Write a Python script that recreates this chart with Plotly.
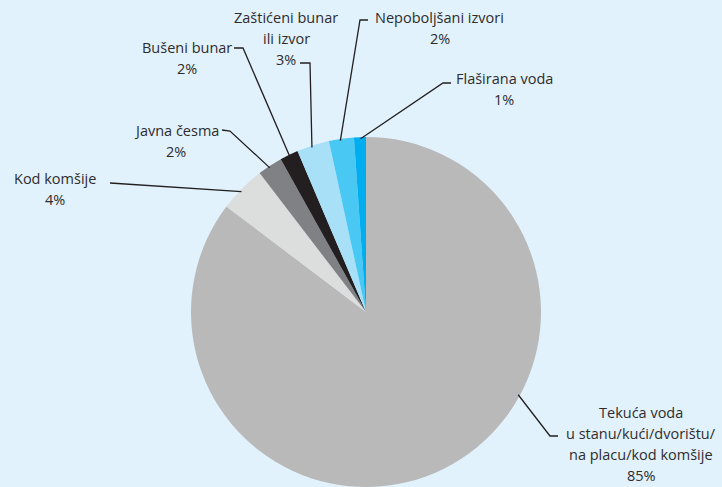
import math
import plotly.graph_objects as go

# ---- data ----
labels = [
    "Tekuća voda\nu stanu/kući/dvorištu/\nna placu/kod komšije",
    "Kod komšije",
    "Javna česma",
    "Bušeni bunar",
    "Zaštićeni bunar\nili izvor",
    "Nepoboljšani izvori",
    "Flaširana voda",
]
values = [85.3, 4.3, 2.3, 1.7, 3.0, 2.3, 1.1]
pct_text = ["85%", "4%", "2%", "2%", "3%", "2%", "1%"]

# ---- style ----
colors = ["#b9b9ba", "#dcdddd", "#808184", "#231f20", "#a8e0f8", "#48c8f3", "#00aeef"]
BG = "#e1f2fc"
TXT = "#2f2c2d"
LINE = "#231f20"
W, H = 722, 487

# label layout in pixels: (center x, first line y)
label_pos = [(641, 412), (55, 178), (176, 130), (187, 47), (286, 17), (440, 17), (504, 78)]
# leader line elbow and end points in pixels
elbows = [(550, 436), (110, 183), (230, 131), (243, 48), (310, 63), (360, 20), (443, 83)]
ends = [(558, 436), (110, 183), (222, 130), (234, 48), (300, 63), (368, 20), (451, 83)]
anchor_frac = [0.386, 0.45, 0.45, 0.5, 0.45, 0.45, 0.55]
LINE_H = 21.2
FONT_SIZE = 14.5

dom_x = [191 / W, 541 / W]
dom_y = [0, 350 / H]

fig = go.Figure(go.Pie(
    labels=[l.replace("\n", " ") for l in labels],
    values=values,
    sort=False,
    direction="clockwise",
    rotation=0,
    marker=dict(colors=colors, line=dict(width=0)),
    textinfo="none",
    hoverinfo="label+percent",
    domain=dict(x=dom_x, y=dom_y),
    showlegend=False,
))

# pie geometry in pixels
cx = (dom_x[0] + dom_x[1]) / 2 * W
cy = H - (dom_y[0] + dom_y[1]) / 2 * H
r = min((dom_x[1] - dom_x[0]) * W, (dom_y[1] - dom_y[0]) * H) / 2

def px2paper(x, y):
    return x / W, 1 - y / H

total = sum(values)
cum = 0.0
shapes = []
annotations = []
for i, v in enumerate(values):
    a0 = cum / total * 360
    a1 = (cum + v) / total * 360
    cum += v
    ang = math.radians(a0 + (a1 - a0) * anchor_frac[i])
    sx = cx + r * 0.99 * math.sin(ang)
    sy = cy - r * 0.99 * math.cos(ang)
    p0 = px2paper(sx, sy)
    p1 = px2paper(*elbows[i])
    p2 = px2paper(*ends[i])
    path = f"M {p0[0]},{p0[1]} L {p1[0]},{p1[1]} L {p2[0]},{p2[1]}"
    shapes.append(dict(type="path", xref="paper", yref="paper", path=path,
                       line=dict(color=LINE, width=1.3)))
    lines = labels[i].split("\n") + [pct_text[i]]
    lx, ly = label_pos[i]
    for j, t in enumerate(lines):
        ax, ay = px2paper(lx, ly + j * LINE_H)
        annotations.append(dict(text=t, x=ax, y=ay, xref="paper", yref="paper",
                                xanchor="center", yanchor="middle", showarrow=False,
                                font=dict(family="Open Sans", size=FONT_SIZE, color=TXT)))

fig.update_layout(
    width=W, height=H,
    margin=dict(l=0, r=0, t=0, b=0),
    paper_bgcolor=BG, plot_bgcolor=BG,
    shapes=shapes, annotations=annotations,
)

fig.write_html("out.html",
               config={"displayModeBar": False},
               post_script="document.body.style.margin='0';document.body.style.overflow='hidden';")
